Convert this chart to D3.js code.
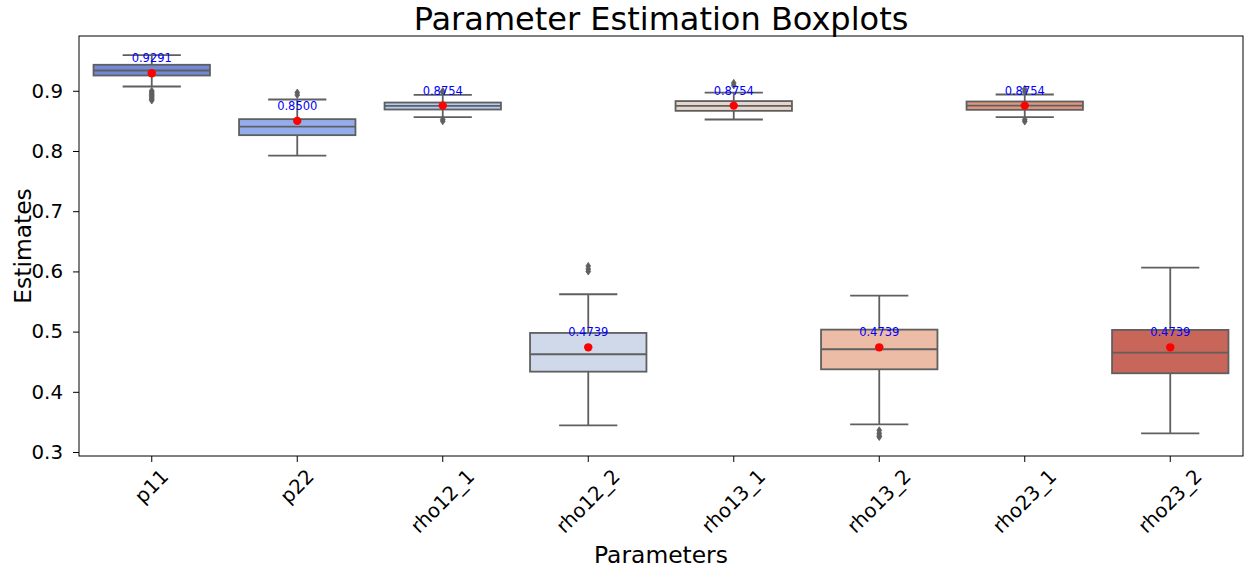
<!DOCTYPE html>
<html>
<head>
    <meta charset="utf-8">
    <style>
        body {
            margin: 0;
            background-color: #ffffff;
            font-family: "DejaVu Sans", sans-serif;
        }

        .box {
            stroke: #5f5f5f;
            stroke-width: 1.8px;
        }

        .whisker, .cap, .median {
            stroke: #5f5f5f;
            stroke-width: 1.8px;
            fill: none;
        }

        .flier {
            fill: #5f5f5f;
            stroke: #5f5f5f;
            stroke-width: 0.8px;
        }

        .axis text {
            font-family: "DejaVu Sans", sans-serif;
            font-size: 19.8px;
            fill: #000;
        }

        .axis path, .axis line {
            stroke: #000;
            stroke-width: 1px;
        }
    </style>
</head>
<body>
    <div id="chart"></div>

    <script src="https://cdn.jsdelivr.net/npm/d3@7"></script>
    <script>
        // values
        var params    = ["p11", "p22", "rho12_1", "rho12_2", "rho13_1", "rho13_2", "rho23_1", "rho23_2"];
        var whiskerLo = [0.9071, 0.7924, 0.8562, 0.3444, 0.8523, 0.3460, 0.8562, 0.3311];
        var q1        = [0.9254, 0.8263, 0.8689, 0.4335, 0.8667, 0.4374, 0.8684, 0.4308];
        var medians   = [0.9337, 0.8406, 0.8750, 0.4624, 0.8750, 0.4707, 0.8755, 0.4650];
        var q3        = [0.9432, 0.8529, 0.8805, 0.4978, 0.8829, 0.5033, 0.8822, 0.5028];
        var whiskerHi = [0.9593, 0.8855, 0.8933, 0.5621, 0.8971, 0.5598, 0.8938, 0.6063];
        var means     = [0.9291, 0.8500, 0.8754, 0.4739, 0.8754, 0.4739, 0.8754, 0.4739];
        var outliers  = [
            [0.900, 0.898, 0.896, 0.894, 0.892, 0.890, 0.888, 0.886, 0.884],
            [0.897, 0.893],
            [0.8995, 0.8975, 0.8525, 0.8495],
            [0.609, 0.604, 0.600],
            [0.913, 0.909],
            [0.336, 0.331, 0.327, 0.325],
            [0.903, 0.899, 0.852, 0.849],
            []
        ];
        // seaborn "coolwarm" palette with 8 colours
        var palette = ["#6180e9", "#85a8fc", "#a9c6fd", "#cbd8ee", "#ead4c8", "#f7b89c", "#f18d6f", "#d95847"];
        var yTicks = [0.3, 0.4, 0.5, 0.6, 0.7, 0.8, 0.9];

        var W = 1248, H = 571,
            margin = {top: 36, right: 5, bottom: 115, left: 79},
            width = W - margin.left - margin.right,
            height = H - margin.top - margin.bottom;

        var svg = d3.select("#chart").append("svg")
            .attr("width", W)
            .attr("height", H);

        var g = svg.append("g")
            .attr("transform", "translate(" + margin.left + "," + margin.top + ")");

        var x = d3.scaleBand()
            .domain(params)
            .range([0, width])
            .padding(0);

        var y = d3.scaleLinear()
            .domain([0.2934, 0.991])
            .range([height, 0]);

        // seaborn draws boxes with the palette desaturated to 75%
        function desat(c) {
            var h = d3.hsl(c);
            h.s = h.s * 0.75;
            return h.formatHex();
        }

        var bw = x.bandwidth() * 0.8;

        var rows = params.map(function(p, i) {
            return {
                name: p, lo: whiskerLo[i], q1: q1[i], med: medians[i], q3: q3[i],
                hi: whiskerHi[i], mean: means[i], out: outliers[i], color: desat(palette[i])
            };
        });

        var box = g.selectAll("g.param")
            .data(rows)
            .enter().append("g")
            .attr("class", "param")
            .attr("transform", function(d) { return "translate(" + (x(d.name) + x.bandwidth() / 2) + ",0)"; });

        // whiskers
        box.append("line").attr("class", "whisker")
            .attr("x1", 0).attr("x2", 0)
            .attr("y1", function(d) { return y(d.q3); })
            .attr("y2", function(d) { return y(d.hi); });
        box.append("line").attr("class", "whisker")
            .attr("x1", 0).attr("x2", 0)
            .attr("y1", function(d) { return y(d.q1); })
            .attr("y2", function(d) { return y(d.lo); });

        // caps
        box.append("line").attr("class", "cap")
            .attr("x1", -bw / 4).attr("x2", bw / 4)
            .attr("y1", function(d) { return y(d.hi); })
            .attr("y2", function(d) { return y(d.hi); });
        box.append("line").attr("class", "cap")
            .attr("x1", -bw / 4).attr("x2", bw / 4)
            .attr("y1", function(d) { return y(d.lo); })
            .attr("y2", function(d) { return y(d.lo); });

        // boxes
        box.append("rect").attr("class", "box")
            .attr("x", -bw / 2)
            .attr("width", bw)
            .attr("y", function(d) { return y(d.q3); })
            .attr("height", function(d) { return y(d.q1) - y(d.q3); })
            .attr("fill", function(d) { return d.color; });

        // median
        box.append("line").attr("class", "median")
            .attr("x1", -bw / 2).attr("x2", bw / 2)
            .attr("y1", function(d) { return y(d.med); })
            .attr("y2", function(d) { return y(d.med); });

        // outliers as thin diamonds
        box.selectAll("path.flier")
            .data(function(d) { return d.out; })
            .enter().append("path")
            .attr("class", "flier")
            .attr("d", function(v) {
                var cy = y(v);
                return "M0," + (cy - 3.6) + "L2.4," + cy + "L0," + (cy + 3.6) + "L-2.4," + cy + "Z";
            });

        // mean dots and labels
        box.append("circle")
            .attr("cx", 0)
            .attr("cy", function(d) { return y(d.mean); })
            .attr("r", 4.2)
            .attr("fill", "red");

        box.append("text")
            .attr("x", 0)
            .attr("y", function(d) { return y(d.mean) - 11; })
            .attr("text-anchor", "middle")
            .style("font-size", "11.5px")
            .style("fill", "blue")
            .text(function(d) { return d.mean.toFixed(4); });

        // axes
        var yAxis = g.append("g").attr("class", "axis")
            .call(d3.axisLeft(y).tickValues(yTicks).tickFormat(d3.format(".1f")).tickSize(6).tickPadding(10));
        yAxis.select(".domain").remove();

        var xAxis = g.append("g").attr("class", "axis")
            .attr("transform", "translate(0," + height + ")")
            .call(d3.axisBottom(x).tickSize(6).tickPadding(5));
        xAxis.select(".domain").remove();

        // rotated x labels, centred under the tick like matplotlib rotation=45
        xAxis.selectAll(".tick text").each(function() {
            var t = d3.select(this);
            var w = this.getComputedTextLength();
            var fh = 19.8 * 1.16;
            var bh = (w + fh) * Math.SQRT1_2;
            t.attr("y", null).attr("dy", null)
                .attr("dominant-baseline", "central")
                .attr("text-anchor", "middle")
                .attr("transform", "translate(0," + (9 + bh / 2) + ") rotate(-45)");
        });

        // frame
        g.append("rect")
            .attr("width", width)
            .attr("height", height)
            .attr("fill", "none")
            .attr("stroke", "#000")
            .attr("stroke-width", 1);

        // titles
        svg.append("text")
            .attr("x", margin.left + width / 2)
            .attr("y", 30)
            .attr("text-anchor", "middle")
            .style("font-size", "32px")
            .text("Parameter Estimation Boxplots");

        svg.append("text")
            .attr("x", margin.left + width / 2)
            .attr("y", 563)
            .attr("text-anchor", "middle")
            .style("font-size", "23.4px")
            .text("Parameters");

        svg.append("text")
            .attr("transform", "translate(31," + (margin.top + height / 2) + ") rotate(-90)")
            .attr("text-anchor", "middle")
            .style("font-size", "23.4px")
            .text("Estimates");
    </script>
</body>
</html>
